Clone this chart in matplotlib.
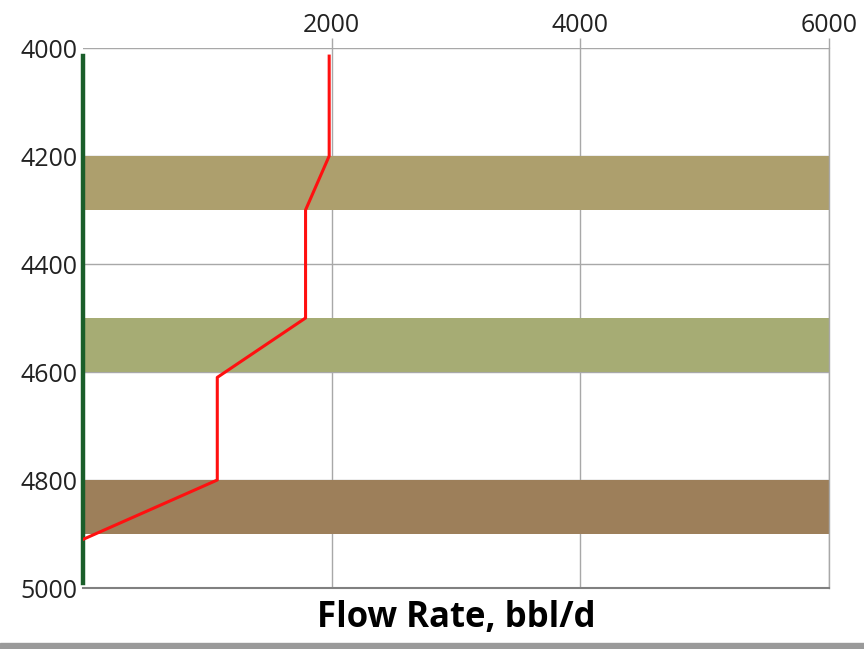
import matplotlib
matplotlib.use("Agg")
import matplotlib.pyplot as plt
from matplotlib.patches import Rectangle

# Data
depth = [4015, 4200, 4300, 4500, 4610, 4800, 4910]
flow = [1980, 1980, 1790, 1790, 1080, 1080, 0]
zone_top = [4200, 4500, 4800]
zone_bottom = [4300, 4600, 4900]
zone_colors = ["#AD9F6D", "#A6AC74", "#9D7F5A"]
xticks = [2000, 4000, 6000]
yticks = [4000, 4200, 4400, 4600, 4800, 5000]

plt.rcParams['font.family'] = ['Open Sans', 'DejaVu Sans']

fig = plt.figure(figsize=(8.64, 6.49), dpi=100)
ax = fig.add_axes([83/864, 1-588/649, (829-83)/864, (588-48)/649])

ax.set_xlim(0, 6000)
ax.set_ylim(5000, 4000)

for t, b, c in zip(zone_top, zone_bottom, zone_colors):
    ax.axhspan(t, b, color=c, zorder=1, lw=0)

ax.set_xticks(xticks)
ax.set_yticks(yticks)
ax.grid(True, color="#A8A8A8", lw=1.0, zorder=0)
ax.set_axisbelow(True)
ax.xaxis.tick_top()
ax.tick_params(axis='x', length=7, width=1.0, color="#A8A8A8", labelsize=18, pad=0)
ax.tick_params(axis='y', length=0, labelsize=18, pad=4)
for lab in ax.get_xticklabels() + ax.get_yticklabels():
    lab.set_color("#222222")

ax.spines["top"].set_visible(False)
ax.spines["right"].set_color("#A8A8A8")
ax.spines["right"].set_linewidth(1.0)
ax.spines["bottom"].set_color("#808080")
ax.spines["bottom"].set_linewidth(1.5)
ax.spines["left"].set_visible(False)

ax.plot([0, 0], [4015, 4990], color="#1A5E2A", lw=3.2, zorder=4, clip_on=False)
ax.plot(flow, depth, color="#FF1010", lw=2.2, zorder=5)

ax.set_xlabel("Flow Rate, bbl/d", fontsize=25, fontweight="bold", labelpad=9)
ax.xaxis.set_label_position("bottom")

fig.patches.append(Rectangle((0, 0), 1, 6/649, transform=fig.transFigure,
                             color="#9A9A9A", zorder=0))

fig.savefig("out.png", dpi=100)
